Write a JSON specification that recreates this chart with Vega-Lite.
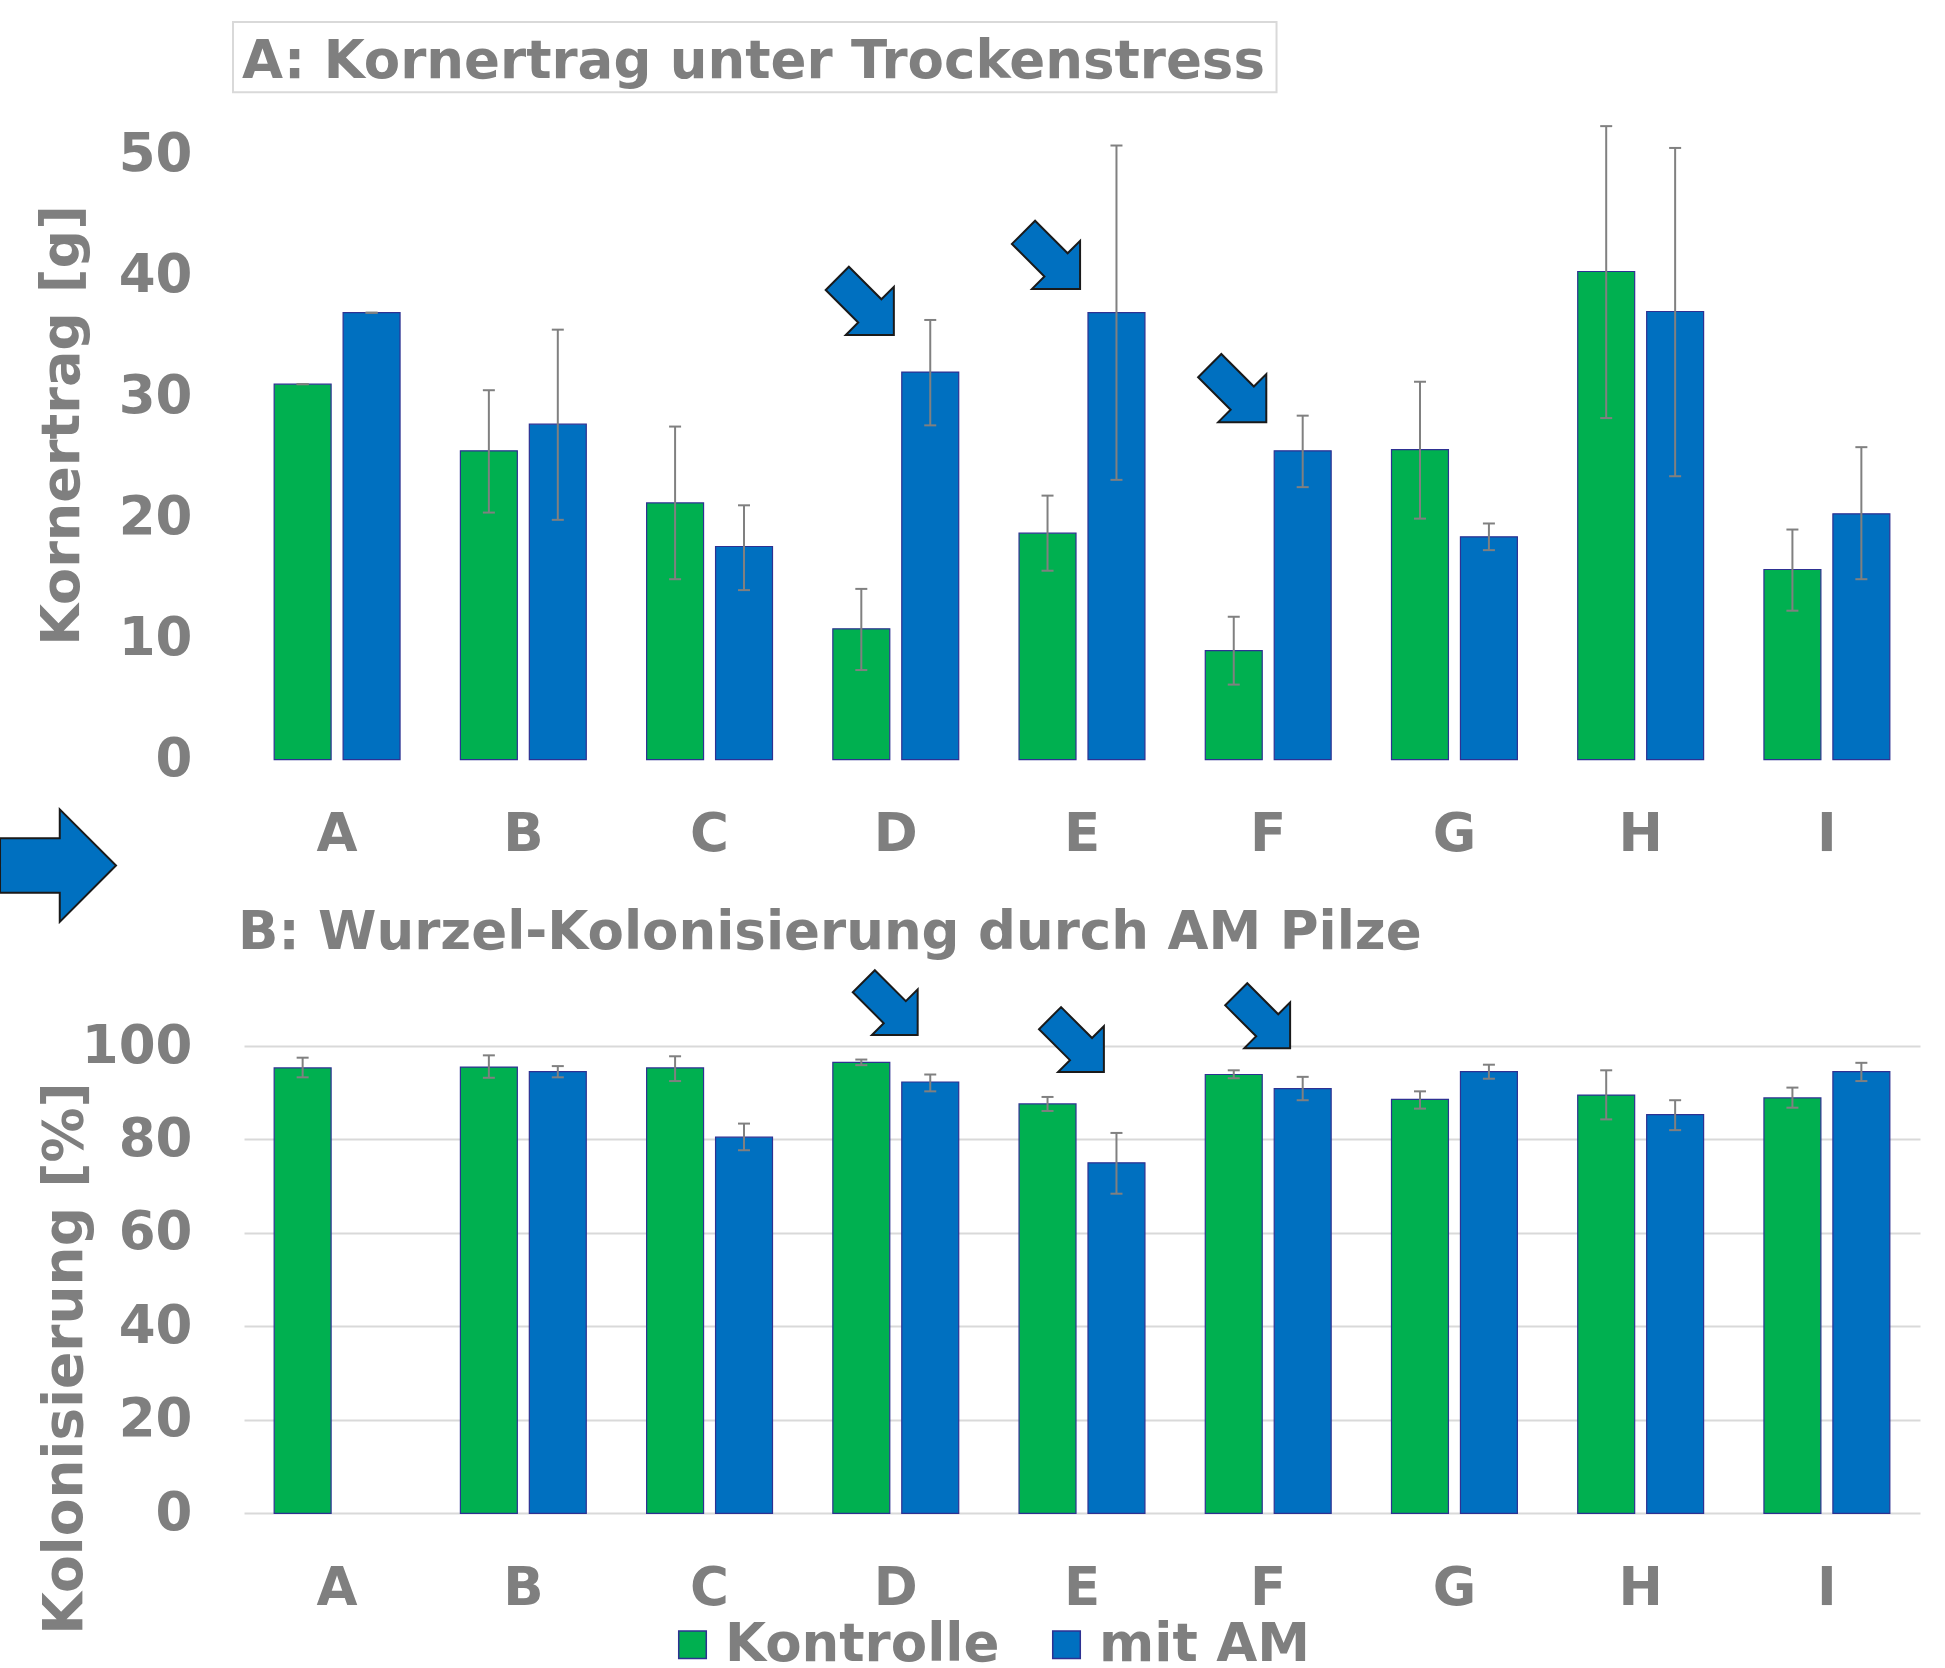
{
  "$schema": "https://vega.github.io/schema/vega-lite/v6.json",
  "padding": {"left": -4, "top": 20, "right": 5, "bottom": 0},
  "background": "white",
  "bounds": "flush",
  "spacing": 286,
  "config": {
    "font": "DejaVu Sans",
    "view": {"stroke": null},
    "axis": {
      "labelFont": "DejaVu Sans", "labelFontWeight": "bold", "labelColor": "#7F7F7F", "labelFontSize": 53,
      "titleFont": "DejaVu Sans", "titleFontWeight": "bold", "titleColor": "#7F7F7F",
      "domain": false, "ticks": false, "tickSize": 0, "gridColor": "#D9D9D9", "gridWidth": 2
    },
    "title": {"font": "DejaVu Sans", "fontWeight": "bold", "color": "#7F7F7F", "fontSize": 53, "anchor": "start", "frame": "group", "baseline": "alphabetic"}
  },
  "datasets": {
    "ertrag": [
      {"Sorte": "A", "Variante": "Kontrolle", "Wert": 31.0, "lo": 31.0, "hi": 31.0},
      {"Sorte": "A", "Variante": "mit AM", "Wert": 36.9, "lo": 36.9, "hi": 36.9},
      {"Sorte": "B", "Variante": "Kontrolle", "Wert": 25.5, "lo": 20.4, "hi": 30.5},
      {"Sorte": "B", "Variante": "mit AM", "Wert": 27.7, "lo": 19.8, "hi": 35.5},
      {"Sorte": "C", "Variante": "Kontrolle", "Wert": 21.2, "lo": 14.9, "hi": 27.5},
      {"Sorte": "C", "Variante": "mit AM", "Wert": 17.6, "lo": 14.0, "hi": 21.0},
      {"Sorte": "D", "Variante": "Kontrolle", "Wert": 10.8, "lo": 7.4, "hi": 14.1},
      {"Sorte": "D", "Variante": "mit AM", "Wert": 32.0, "lo": 27.6, "hi": 36.3},
      {"Sorte": "E", "Variante": "Kontrolle", "Wert": 18.7, "lo": 15.6, "hi": 21.8},
      {"Sorte": "E", "Variante": "mit AM", "Wert": 36.9, "lo": 23.1, "hi": 50.7},
      {"Sorte": "F", "Variante": "Kontrolle", "Wert": 9.0, "lo": 6.2, "hi": 11.8},
      {"Sorte": "F", "Variante": "mit AM", "Wert": 25.5, "lo": 22.5, "hi": 28.4},
      {"Sorte": "G", "Variante": "Kontrolle", "Wert": 25.6, "lo": 19.9, "hi": 31.2},
      {"Sorte": "G", "Variante": "mit AM", "Wert": 18.4, "lo": 17.3, "hi": 19.5},
      {"Sorte": "H", "Variante": "Kontrolle", "Wert": 40.3, "lo": 28.2, "hi": 52.3},
      {"Sorte": "H", "Variante": "mit AM", "Wert": 37.0, "lo": 23.4, "hi": 50.5},
      {"Sorte": "I", "Variante": "Kontrolle", "Wert": 15.7, "lo": 12.3, "hi": 19.0},
      {"Sorte": "I", "Variante": "mit AM", "Wert": 20.3, "lo": 14.9, "hi": 25.8}
    ],
    "kolon": [
      {"Sorte": "A", "Variante": "Kontrolle", "Wert": 95.3, "lo": 93.3, "hi": 97.5},
      {"Sorte": "B", "Variante": "Kontrolle", "Wert": 95.5, "lo": 93.2, "hi": 98.0},
      {"Sorte": "B", "Variante": "mit AM", "Wert": 94.5, "lo": 93.3, "hi": 95.7},
      {"Sorte": "C", "Variante": "Kontrolle", "Wert": 95.3, "lo": 92.5, "hi": 97.8},
      {"Sorte": "C", "Variante": "mit AM", "Wert": 80.5, "lo": 77.7, "hi": 83.4},
      {"Sorte": "D", "Variante": "Kontrolle", "Wert": 96.5, "lo": 95.9, "hi": 97.1},
      {"Sorte": "D", "Variante": "mit AM", "Wert": 92.3, "lo": 90.3, "hi": 93.9},
      {"Sorte": "E", "Variante": "Kontrolle", "Wert": 87.6, "lo": 86.1, "hi": 89.1},
      {"Sorte": "E", "Variante": "mit AM", "Wert": 75.0, "lo": 68.4, "hi": 81.4},
      {"Sorte": "F", "Variante": "Kontrolle", "Wert": 93.9, "lo": 93.1, "hi": 94.8},
      {"Sorte": "F", "Variante": "mit AM", "Wert": 90.9, "lo": 88.4, "hi": 93.4},
      {"Sorte": "G", "Variante": "Kontrolle", "Wert": 88.6, "lo": 86.6, "hi": 90.3},
      {"Sorte": "G", "Variante": "mit AM", "Wert": 94.5, "lo": 93.0, "hi": 96.0},
      {"Sorte": "H", "Variante": "Kontrolle", "Wert": 89.5, "lo": 84.3, "hi": 94.8},
      {"Sorte": "H", "Variante": "mit AM", "Wert": 85.3, "lo": 82.0, "hi": 88.4},
      {"Sorte": "I", "Variante": "Kontrolle", "Wert": 88.9, "lo": 86.8, "hi": 91.1},
      {"Sorte": "I", "Variante": "mit AM", "Wert": 94.5, "lo": 92.5, "hi": 96.4}
    ],
    "pfeileA": [
      {"Sorte": "D", "Wert": 37.4},
      {"Sorte": "E", "Wert": 41.2},
      {"Sorte": "F", "Wert": 30.2}
    ],
    "pfeileB": [
      {"Sorte": "D", "Wert": 108.1},
      {"Sorte": "E", "Wert": 100.2},
      {"Sorte": "F", "Wert": 105.3}
    ],
    "grosspfeil": [
      {"Sorte": "A", "Wert": -8.74}
    ]
  },
  "vconcat": [
    {
      "width": 1676,
      "height": 605.7,
      "title": {"text": "A: Kornertrag unter Trockenstress", "offset": -68, "dx": -2},
      "layer": [
        {
          "data": {"values": [{}]},
          "mark": {"type": "rect", "fill": "white", "fillOpacity": 0, "stroke": "#D9D9D9", "strokeWidth": 2},
          "encoding": {
            "x": {"datum": "A", "bandPosition": -0.327},
            "x2": {"datum": "F", "bandPosition": 0.566},
            "y": {"datum": 60.9, "type": "quantitative", "title": "Kornertrag [g]"},
            "y2": {"datum": 55.1}
          }
        },
        {
          "data": {"name": "ertrag"},
          "mark": {"type": "bar", "stroke": "#2E3192", "strokeWidth": 1.2},
          "encoding": {
            "x": {"field": "Sorte", "type": "nominal", "scale": {"paddingInner": 0.324, "paddingOuter": 0.162},
                  "axis": {"title": null, "labelAngle": 0, "labelAlign": "center", "labelPadding": 49, "grid": false, "labelBaseline": "top", "bandPosition": 0.5}},
            "xOffset": {"field": "Variante", "type": "nominal", "scale": {"paddingInner": 0.174, "paddingOuter": 0}},
            "y": {"field": "Wert", "type": "quantitative", "scale": {"domain": [0, 50]}, "title": "Kornertrag [g]",
                  "axis": {"values": [0, 10, 20, 30, 40, 50], "titleFontSize": 54, "labelPadding": 52,
                           "titleX": -166, "titleY": 271, "titleAngle": -90, "titleBaseline": "alphabetic", "titleAlign": "center"}},
            "color": {"field": "Variante", "type": "nominal",
                      "scale": {"domain": ["Kontrolle", "mit AM"], "range": ["#00B050", "#0070C0"]},
                      "legend": {"title": null, "orient": "none", "legendX": 422, "legendY": 1464, "direction": "horizontal", "columns": 2,
                                 "columnPadding": 40, "labelFontSize": 53, "labelFont": "DejaVu Sans", "labelFontWeight": "bold",
                                 "labelColor": "#7F7F7F", "labelLimit": 600, "symbolType": "square", "symbolSize": 760, "symbolStrokeColor": "#2E3192",
                                 "symbolStrokeWidth": 1.5, "labelOffset": 6, "padding": 0}}
          }
        },
        {
          "data": {"name": "ertrag"},
          "mark": {"type": "rule", "color": "#808080", "strokeWidth": 2},
          "encoding": {
            "x": {"field": "Sorte", "type": "nominal"},
            "xOffset": {"field": "Variante", "type": "nominal"},
            "y": {"field": "lo", "type": "quantitative", "title": "Kornertrag [g]"},
            "y2": {"field": "hi"}
          }
        },
        {
          "data": {"name": "ertrag"},
          "mark": {"type": "tick", "color": "#808080", "thickness": 2, "size": 12, "opacity": 1},
          "encoding": {
            "x": {"field": "Sorte", "type": "nominal"},
            "xOffset": {"field": "Variante", "type": "nominal"},
            "y": {"field": "lo", "type": "quantitative", "title": "Kornertrag [g]"}
          }
        },
        {
          "data": {"name": "ertrag"},
          "mark": {"type": "tick", "color": "#808080", "thickness": 2, "size": 12, "opacity": 1},
          "encoding": {
            "x": {"field": "Sorte", "type": "nominal"},
            "xOffset": {"field": "Variante", "type": "nominal"},
            "y": {"field": "hi", "type": "quantitative", "title": "Kornertrag [g]"}
          }
        },
        {
          "data": {"name": "pfeileA"},
          "mark": {"type": "point", "shape": "M-1,-0.41 L0.15,-0.41 L0.15,-0.85 L1,0 L0.15,0.85 L0.15,0.41 L-1,0.41 Z",
                   "size": 6400, "angle": 45, "filled": true, "fill": "#0070C0", "stroke": "#1A1A1A", "strokeWidth": 2, "opacity": 1},
          "encoding": {
            "x": {"field": "Sorte", "type": "nominal", "bandPosition": 0.26},
            "y": {"field": "Wert", "type": "quantitative", "title": "Kornertrag [g]"}
          }
        },
        {
          "data": {"name": "grosspfeil"},
          "mark": {"type": "point", "shape": "M-1,-0.47 L0.03,-0.47 L0.03,-0.97 L1,0 L0.03,0.97 L0.03,0.47 L-1,0.47 Z",
                   "size": 13456, "filled": true, "fill": "#0070C0", "stroke": "#1A1A1A", "strokeWidth": 2, "opacity": 1},
          "encoding": {
            "x": {"field": "Sorte", "type": "nominal", "bandPosition": -1.717},
            "y": {"field": "Wert", "type": "quantitative", "title": "Kornertrag [g]"}
          }
        }
      ]
    },
    {
      "width": 1676,
      "height": 467.4,
      "title": {"text": "B: Wurzel-Kolonisierung durch AM Pilze", "offset": 6, "dx": -6},
      "layer": [
        {
          "data": {"name": "kolon"},
          "mark": {"type": "bar", "stroke": "#2E3192", "strokeWidth": 1.2},
          "encoding": {
            "x": {"field": "Sorte", "type": "nominal", "scale": {"paddingInner": 0.324, "paddingOuter": 0.162},
                  "axis": {"title": null, "labelAngle": 0, "labelAlign": "center", "labelPadding": 49, "grid": false, "labelBaseline": "top", "bandPosition": 0.5}},
            "xOffset": {"field": "Variante", "type": "nominal", "scale": {"paddingInner": 0.174, "paddingOuter": 0}},
            "y": {"field": "Wert", "type": "quantitative", "scale": {"domain": [0, 100]}, "title": "Kolonisierung [%]",
                  "axis": {"values": [0, 20, 40, 60, 80, 100], "titleFontSize": 55, "labelPadding": 52,
                           "titleX": -163, "titleY": 312, "titleAngle": -90, "titleBaseline": "alphabetic", "titleAlign": "center"}},
            "color": {"field": "Variante", "type": "nominal",
                      "scale": {"domain": ["Kontrolle", "mit AM"], "range": ["#00B050", "#0070C0"]}}
          }
        },
        {
          "data": {"name": "kolon"},
          "mark": {"type": "rule", "color": "#808080", "strokeWidth": 2},
          "encoding": {
            "x": {"field": "Sorte", "type": "nominal"},
            "xOffset": {"field": "Variante", "type": "nominal"},
            "y": {"field": "lo", "type": "quantitative", "title": "Kolonisierung [%]"},
            "y2": {"field": "hi"}
          }
        },
        {
          "data": {"name": "kolon"},
          "mark": {"type": "tick", "color": "#808080", "thickness": 2, "size": 12, "opacity": 1},
          "encoding": {
            "x": {"field": "Sorte", "type": "nominal"},
            "xOffset": {"field": "Variante", "type": "nominal"},
            "y": {"field": "lo", "type": "quantitative", "title": "Kolonisierung [%]"}
          }
        },
        {
          "data": {"name": "kolon"},
          "mark": {"type": "tick", "color": "#808080", "thickness": 2, "size": 12, "opacity": 1},
          "encoding": {
            "x": {"field": "Sorte", "type": "nominal"},
            "xOffset": {"field": "Variante", "type": "nominal"},
            "y": {"field": "hi", "type": "quantitative", "title": "Kolonisierung [%]"}
          }
        },
        {
          "data": {"name": "pfeileB"},
          "mark": {"type": "point", "shape": "M-1,-0.41 L0.15,-0.41 L0.15,-0.85 L1,0 L0.15,0.85 L0.15,0.41 L-1,0.41 Z",
                   "size": 5800, "angle": 45, "filled": true, "fill": "#0070C0", "stroke": "#1A1A1A", "strokeWidth": 2, "opacity": 1},
          "encoding": {
            "x": {"field": "Sorte", "type": "nominal", "bandPosition": 0.46},
            "y": {"field": "Wert", "type": "quantitative", "title": "Kolonisierung [%]"}
          }
        }
      ]
    }
  ]
}
